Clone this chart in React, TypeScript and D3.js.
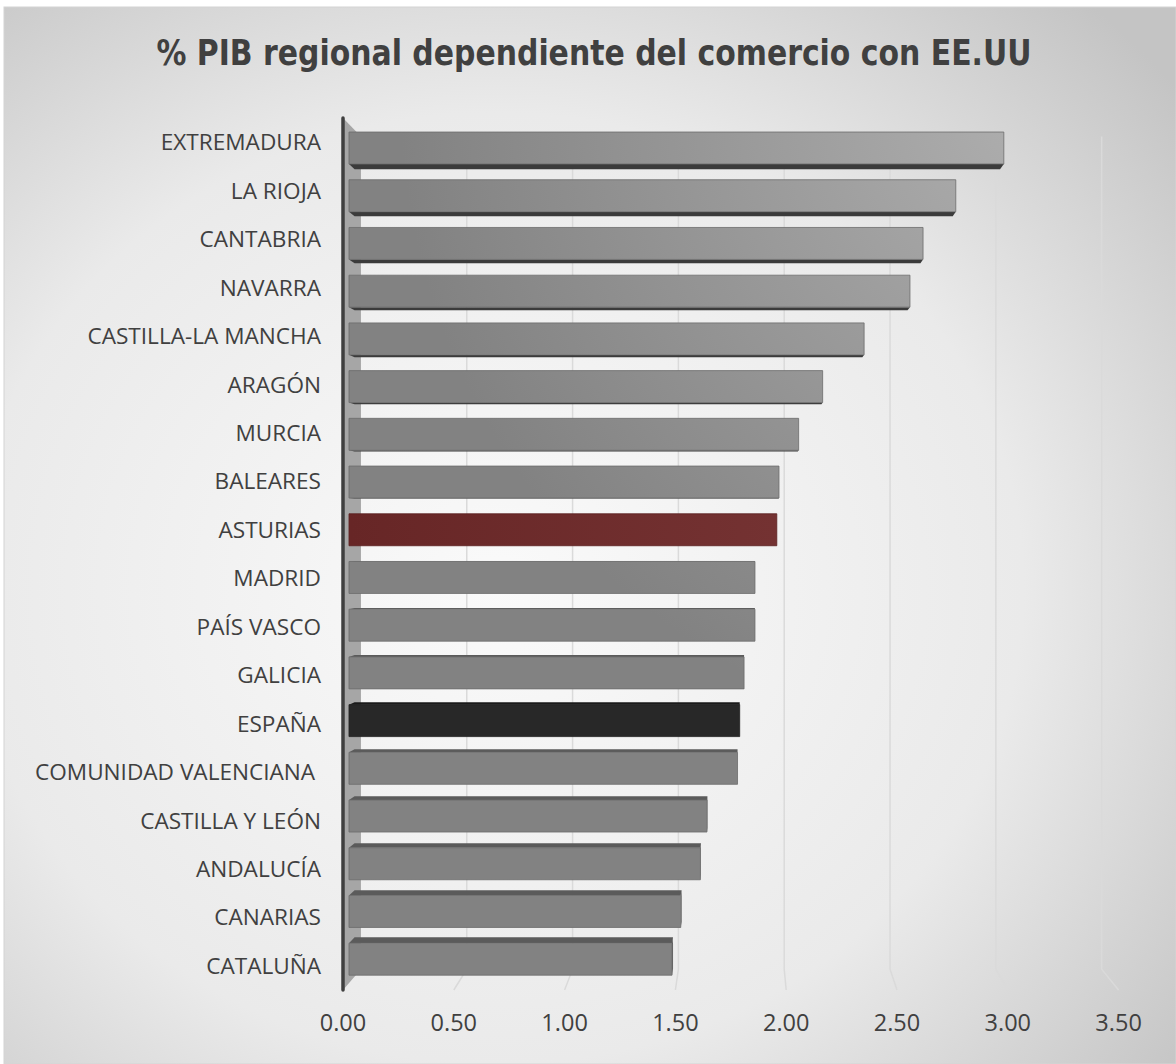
import React from "react";
import * as d3 from "d3";

const categories = [
  "EXTREMADURA", "LA RIOJA", "CANTABRIA", "NAVARRA", "CASTILLA-LA MANCHA", "ARAGÓN",
  "MURCIA", "BALEARES", "ASTURIAS", "MADRID", "PAÍS VASCO", "GALICIA", "ESPAÑA",
  "COMUNIDAD VALENCIANA ", "CASTILLA Y LEÓN", "ANDALUCÍA", "CANARIAS", "CATALUÑA",
];
const values = [3.0, 2.78, 2.63, 2.57, 2.36, 2.17, 2.06, 1.97, 1.96, 1.86, 1.86, 1.81, 1.79, 1.78, 1.64, 1.61, 1.52, 1.48];
const highlight: Record<string, string> = { "ASTURIAS": "red", "ESPAÑA": "black" };
const tickValues = [0, 0.5, 1, 1.5, 2, 2.5, 3, 3.5];
const title = "% PIB regional dependiente del comercio con EE.UU";

const W = 1176, H = 1064;
const VPX = 742, VPY = 528, SB = 0.955, S1 = 0.985, S2 = 0.971;
const TOP = 118, BOT = 990;

const P = (x: number, y: number, s: number): [number, number] => [VPX + (x - VPX) * s, VPY + (y - VPY) * s];
const poly = (pts: [number, number][]) => pts.map((p) => p.join(",")).join(" ");

export default function App() {
  const xF = d3.scaleLinear().domain([0, 3.5]).range([343, 343 + 3.5 * 221.6]);
  const yF = d3.scaleBand<string>().domain(categories).range([TOP, BOT]).paddingInner(0.33).paddingOuter(0.165);
  const bw = yF.bandwidth();
  const fmt = d3.format(".2f");
  const font = "'Open Sans', 'Liberation Sans', sans-serif";

  const styles: Record<string, { face: string; bottom: string; top: string; stroke: string }> = {
    gray: { face: "url(#grayFace)", bottom: "#3b3b3b", top: "#5b5b5b", stroke: "#6c6c6c" },
    red: { face: "url(#redFace)", bottom: "#3a1414", top: "#4a1c1c", stroke: "#5a2020" },
    black: { face: "#282828", bottom: "#111111", top: "#1a1a1a", stroke: "#202020" },
  };

  return (
    <svg width={W} height={H} style={{ position: "absolute", left: 0, top: 0 }}>
      <defs>
        <radialGradient id="bg" cx="0.42" cy="0.55" r="0.75">
          <stop offset="0" stopColor="#fafafa" />
          <stop offset="0.6" stopColor="#eaeaea" />
          <stop offset="1" stopColor="#c4c4c4" />
        </radialGradient>
        <radialGradient id="grayFace" gradientUnits="userSpaceOnUse" cx={1050} cy={100} r={650}>
          <stop offset="0" stopColor="#b0b0b0" />
          <stop offset="1" stopColor="#828282" />
        </radialGradient>
        <linearGradient id="redFace" x1="0" x2="1" y1="0" y2="0">
          <stop offset="0" stopColor="#672626" />
          <stop offset="1" stopColor="#743232" />
        </linearGradient>
      </defs>
      <rect x={0} y={0} width={W} height={H} fill="#ffffff" />
      <rect x={4} y={7} width={W - 4} height={H - 7} fill="url(#bg)" stroke="#d4d4d4" strokeWidth={1} />

      <text x={594} y={65} textAnchor="middle" fontFamily="'Liberation Sans Narrow', 'DejaVu Sans Condensed', 'Roboto', sans-serif"
        fontWeight="bold" fontSize={35} fill="#404040" textLength={875} lengthAdjust="spacingAndGlyphs">{title}</text>

      {/* left wall */}
      <polygon points={poly([P(xF(0), TOP, 1), P(xF(0), TOP, SB), P(xF(0), BOT, SB), P(xF(0), BOT, 1)])} fill="#a6a6a6" />

      {/* gridlines on back wall and floor */}
      {tickValues.filter((v) => v > 0).map((v) => {
        const a = P(xF(v), TOP, SB), b = P(xF(v), BOT, SB), c = P(xF(v), BOT, 1);
        return <polyline key={v} points={poly([a, b, c])} fill="none" stroke="#dadada" strokeWidth={1.5} />;
      })}

      {/* bars */}
      {categories.map((cat, i) => {
        const st = styles[highlight[cat] || "gray"];
        const y0 = yF(cat)!, y1 = y0 + bw;
        const xL = xF(0), xR = xF(values[i]);
        const front = [P(xL, y0, S1), P(xR, y0, S1), P(xR, y1, S1), P(xL, y1, S1)];
        const parts: React.ReactNode[] = [];
        if (y1 < VPY) {
          parts.push(<polygon key="b" points={poly([P(xL, y1, S1), P(xR, y1, S1), P(xR, y1, S2), P(xL, y1, S2)])} fill={st.bottom} />);
        }
        if (y0 > VPY) {
          parts.push(<polygon key="t" points={poly([P(xL, y0, S1), P(xR, y0, S1), P(xR, y0, S2), P(xL, y0, S2)])} fill={st.top} />);
        }
        if (xR < VPX) {
          parts.push(<polygon key="r" points={poly([P(xR, y0, S1), P(xR, y0, S2), P(xR, y1, S2), P(xR, y1, S1)])} fill={st.top} />);
        }
        parts.push(<polygon key="f" points={poly(front)} fill={st.face} stroke={st.stroke} strokeWidth={0.8} />);
        return <g key={cat}>{parts}</g>;
      })}

      {/* axis line */}
      <line x1={xF(0)} x2={xF(0)} y1={TOP} y2={BOT} stroke="#3f3f3f" strokeWidth={3.5} strokeLinecap="round" />

      {/* category labels */}
      {categories.map((cat) => (
        <text key={cat} x={321} y={yF(cat)! + bw / 2} dy="0.36em" textAnchor="end" fontFamily={font} fontSize={22.6}
          fill="#404040" style={{ whiteSpace: "pre" }}>{cat}</text>
      ))}

      {/* tick labels */}
      {tickValues.map((v) => (
        <text key={v} x={xF(v)} y={1031} textAnchor="middle" fontFamily={font} fontSize={23.5} fill="#404040">{fmt(v)}</text>
      ))}
    </svg>
  );
}
